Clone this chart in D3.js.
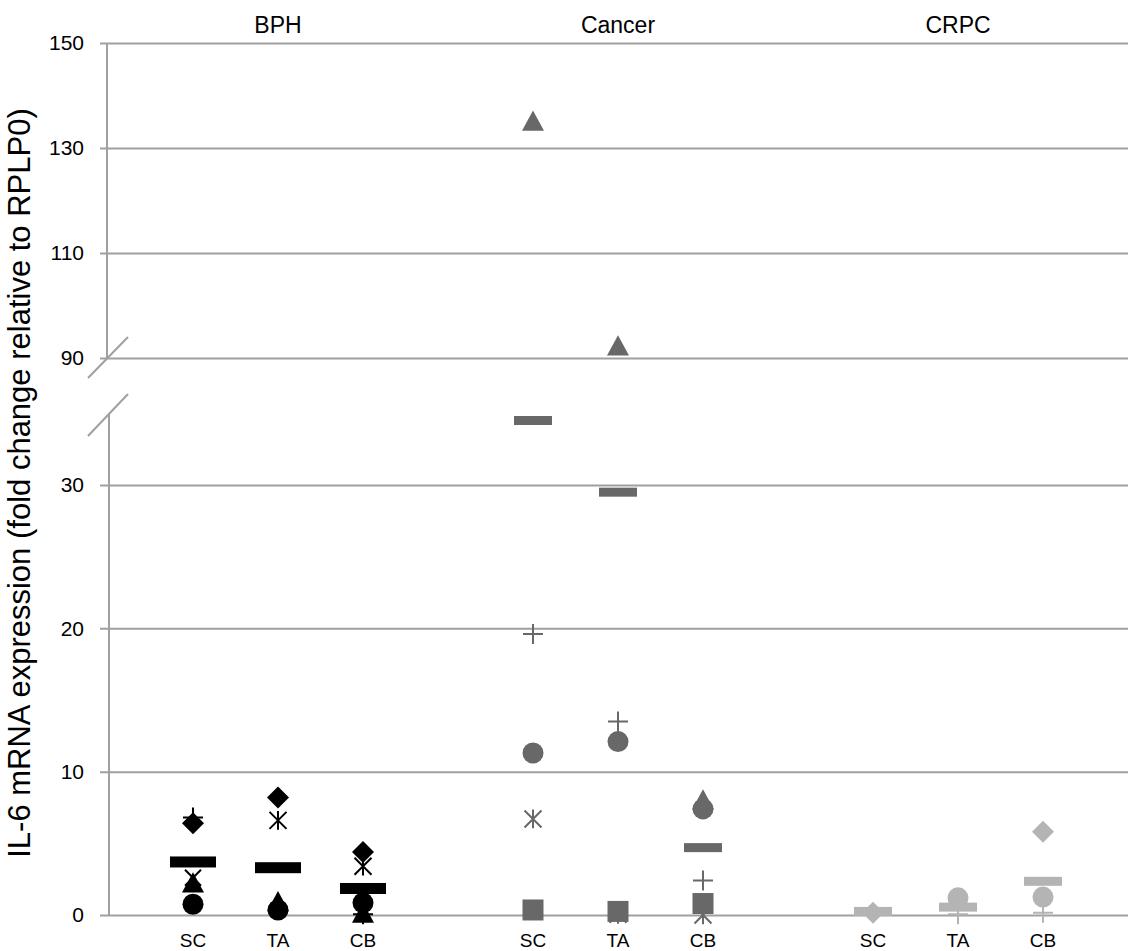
<!DOCTYPE html>
<html>
<head>
<meta charset="utf-8">
<script src="https://cdn.jsdelivr.net/npm/d3@7"></script>
<style>
  body { margin: 0; background: #fff; }
  svg text { font-family: "Liberation Sans", Arial, sans-serif; }
</style>
</head>
<body>
<div class="chart"></div>
<script>
// groups and sites along the x axis
var groups = ["BPH", "Cancer", "CRPC"];
var sites = ["SC", "TA", "CB"];

// one value per category (BPH SC, TA, CB, Cancer SC, TA, CB, CRPC SC, TA, CB)
var diamond  = [6.4, 8.2, 4.4, null, null, null, 0.15, null, 5.8];
var square   = [null, null, null, 0.35, 0.25, 0.8, null, null, null];
var triangle = [2.2, 0.9, 0.1, 135, 92.2, 8.0, null, null, null];
var cross    = [2.6, null, null, null, null, null, null, null, null];
var star     = [null, 6.6, 3.4, 6.7, 0.05, 0.0, null, null, null];
var circle   = [0.75, 0.35, 0.85, 11.3, 12.1, 7.4, null, 1.2, 1.25];
var plus     = [6.8, null, 0.05, 19.6, 13.5, 2.4, null, 0.05, 0.15];
var mean     = [3.7, 3.3, 1.85, 34.5, 29.5, 4.7, 0.25, 0.55, 2.35];

var lowTicks = [0, 10, 20, 30];
var highTicks = [90, 110, 130, 150];

var groupColor = { BPH: "#000000", Cancer: "#686868", CRPC: "#b4b4b4" };
var gridColor = "#a0a0a0";

var W = 1128, H = 951;
var svg = d3.select(".chart").append("svg")
  .attr("width", W)
  .attr("height", H);

// x: 12 evenly spaced slots, one empty slot between groups
var x = d3.scaleLinear().domain([-1, 11]).range([108, 1128]);
function slot(i) { return i + Math.floor(i / 3); }

// broken y axis: two scales
var yHigh = d3.scaleLinear().domain([90, 150]).range([358, 43]);
var yLow = d3.scaleLinear().domain([0, 30]).range([915, 485]);
function y(v) { return v >= 90 ? yHigh(v) : yLow(v); }

// grid + tick labels
function drawAxis(scale, ticks) {
  var g = svg.append("g")
    .attr("transform", "translate(100,0)")
    .call(d3.axisLeft(scale)
      .tickValues(ticks)
      .tickSizeInner(-(W - 100))
      .tickSizeOuter(0)
      .tickPadding(16));
  g.select(".domain").remove();
  g.selectAll(".tick line").attr("stroke", gridColor).attr("stroke-width", 2);
  g.selectAll(".tick text")
    .attr("fill", "#000")
    .style("font-size", "21px")
    .style("font-family", '"Liberation Sans", Arial, sans-serif');
}
drawAxis(yHigh, highTicks);
drawAxis(yLow, lowTicks);

// axis lines
svg.append("line")
  .attr("x1", 107).attr("x2", 107)
  .attr("y1", yHigh(150)).attr("y2", yHigh(90))
  .attr("stroke", gridColor).attr("stroke-width", 2);
svg.append("line")
  .attr("x1", 109).attr("x2", 109)
  .attr("y1", yLow(35)).attr("y2", yLow(0))
  .attr("stroke", gridColor).attr("stroke-width", 2);

// break marks
[[88, 378, 128, 337], [88, 436, 128, 394]].forEach(function(s) {
  svg.append("line")
    .attr("x1", s[0]).attr("y1", s[1]).attr("x2", s[2]).attr("y2", s[3])
    .attr("stroke", gridColor).attr("stroke-width", 2);
});

// marker shapes
function filledPath(type, size) {
  if (type === "diamond") {
    var r = size / 2;
    return "M0," + (-r) + "L" + r + ",0L0," + r + "L" + (-r) + ",0Z";
  }
  if (type === "square") {
    var h = size / 2;
    return "M" + (-h) + "," + (-h) + "h" + size + "v" + size + "h" + (-size) + "Z";
  }
  if (type === "triangle") {
    var w = size / 2, t = size * 0.92;
    return "M0," + (-t * 0.55) + "L" + w + "," + (t * 0.45) + "L" + (-w) + "," + (t * 0.45) + "Z";
  }
  if (type === "circle") {
    var c = size / 2;
    return "M" + c + ",0A" + c + "," + c + " 0 1,1 " + (-c) + ",0A" + c + "," + c + " 0 1,1 " + c + ",0Z";
  }
}

function linePath(type, size) {
  var r = size / 2;
  if (type === "plus") {
    return "M" + (-r) + ",0H" + r + "M0," + (-r) + "V" + r;
  }
  if (type === "cross") {
    return "M" + (-r) + "," + (-r) + "L" + r + "," + r + "M" + r + "," + (-r) + "L" + (-r) + "," + r;
  }
  if (type === "star") {
    return "M" + (-r) + "," + (-r) + "L" + r + "," + r + "M" + r + "," + (-r) + "L" + (-r) + "," + r +
      "M0," + (-r * 1.1) + "V" + (r * 1.1);
  }
}

var series = [
  { name: "diamond", values: diamond, kind: "fill", size: 22 },
  { name: "square", values: square, kind: "fill", size: 21 },
  { name: "triangle", values: triangle, kind: "fill", size: 22 },
  { name: "cross", values: cross, kind: "line", size: 16 },
  { name: "star", values: star, kind: "line", size: 17 },
  { name: "circle", values: circle, kind: "fill", size: 21 },
  { name: "plus", values: plus, kind: "line", size: 20 }
];

series.forEach(function(s) {
  var pts = s.values.map(function(v, i) { return { v: v, i: i }; })
    .filter(function(d) { return d.v !== null; });
  svg.append("g").selectAll("path")
    .data(pts)
    .enter()
    .append("path")
    .attr("transform", function(d) { return "translate(" + x(slot(d.i)) + "," + y(d.v) + ")"; })
    .attr("d", function() { return s.kind === "fill" ? filledPath(s.name, s.size) : linePath(s.name, s.size); })
    .attr("fill", function(d) { return s.kind === "fill" ? groupColor[groups[Math.floor(d.i / 3)]] : "none"; })
    .attr("stroke", function(d) { return s.kind === "line" ? groupColor[groups[Math.floor(d.i / 3)]] : "none"; })
    .attr("stroke-width", 2);
});

// mean dashes
svg.append("g").selectAll("rect")
  .data(mean.map(function(v, i) { return { v: v, i: i }; }))
  .enter()
  .append("rect")
  .attr("x", function(d) { var w = d.i < 3 ? 46 : 38; return x(slot(d.i)) - w / 2; })
  .attr("y", function(d) { var h = d.i < 3 ? 11 : 9; return y(d.v) - h / 2; })
  .attr("width", function(d) { return d.i < 3 ? 46 : 38; })
  .attr("height", function(d) { return d.i < 3 ? 11 : 9; })
  .attr("fill", function(d) { return groupColor[groups[Math.floor(d.i / 3)]]; });

// category labels
svg.append("g").selectAll("text")
  .data(d3.range(9))
  .enter()
  .append("text")
  .attr("x", function(i) { return x(slot(i)); })
  .attr("y", 947)
  .attr("text-anchor", "middle")
  .style("font-size", "19px")
  .text(function(i) { return sites[i % 3]; });

// group labels
svg.append("g").selectAll("text")
  .data(groups)
  .enter()
  .append("text")
  .attr("x", function(g, k) { return x(slot(k * 3 + 1)); })
  .attr("y", 33)
  .attr("text-anchor", "middle")
  .style("font-size", "23px")
  .text(function(g) { return g; });

// y axis title
svg.append("text")
  .attr("transform", "translate(30,483) rotate(-90)")
  .attr("text-anchor", "middle")
  .style("font-size", "31px")
  .text("IL-6 mRNA expression (fold change relative to RPLP0)");
</script>
</body>
</html>
